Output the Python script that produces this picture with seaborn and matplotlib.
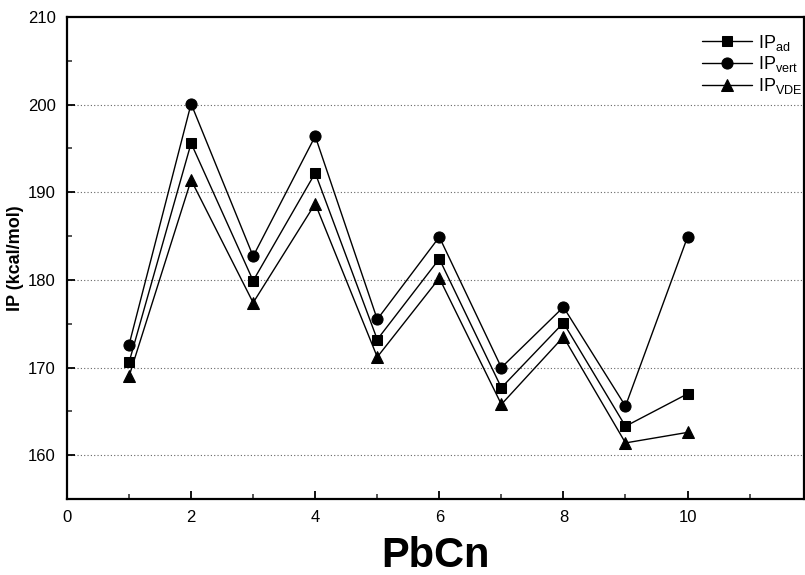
import matplotlib
matplotlib.use("Agg")
import matplotlib.pyplot as plt
import seaborn as sns
import numpy as np
from matplotlib.ticker import MultipleLocator

sns.set_theme(style="white")
plt.rcParams['font.family'] = ['Liberation Sans', 'DejaVu Sans']
plt.rcParams['mathtext.fontset'] = 'custom'
plt.rcParams['mathtext.rm'] = 'Liberation Sans'
plt.rcParams['text.color'] = 'black'
plt.rcParams['axes.labelcolor'] = 'black'

n_values = [1, 2, 3, 4, 5, 6, 7, 8, 9, 10]
ip_ad = [170.6, 195.6, 179.9, 192.2, 173.2, 182.4, 167.7, 175.1, 163.3, 167.0]
ip_vert = [172.6, 200.1, 182.7, 196.4, 175.5, 184.9, 170.0, 176.9, 165.6, 184.9]
ip_vde = [169.0, 191.4, 177.4, 188.7, 171.2, 180.2, 165.8, 173.5, 161.4, 162.6]
series_labels = [r'IP$_{\mathregular{ad}}$', r'IP$_{\mathregular{vert}}$', r'IP$_{\mathregular{VDE}}$']
x_ticks = [0, 2, 4, 6, 8, 10]
y_ticks = [160, 170, 180, 190, 200, 210]

fig = plt.figure(figsize=(8.05, 5.75), dpi=100)
ax = fig.add_axes([67/805, 1 - 499/575, 1 - 67/805 - 0.001, (499 - 17)/575])

series = [ip_ad, ip_vert, ip_vde]
markers = ['s', 'o', '^']
msizes = [6.5, 8, 8]
for vals, lab, mk, ms in zip(series, series_labels, markers, msizes):
    sns.lineplot(x=n_values, y=vals, ax=ax, color='black', linewidth=1.0,
                 marker=mk, markersize=ms, markeredgecolor='black',
                 markerfacecolor='black', label=lab)

ax.set_xlim(0, 11.88)
ax.set_ylim(155, 210)
ax.set_xticks(x_ticks)
ax.set_yticks(y_ticks)
ax.xaxis.set_minor_locator(MultipleLocator(1))
ax.yaxis.set_minor_locator(MultipleLocator(5))
ax.tick_params(axis='both', which='major', direction='in', length=6, width=1.3,
               labelsize=12, colors='black', bottom=True, left=True, pad=8)
ax.tick_params(axis='both', which='minor', direction='in', length=3.5, width=1.1,
               bottom=True, left=True)
for s in ax.spines.values():
    s.set_color('black')
    s.set_linewidth(1.6)

for yv in [160, 170, 180, 190, 200]:
    ax.axhline(yv, color='#666666', linestyle=(0, (1, 2)), linewidth=0.8, zorder=0)

ax.set_ylabel('IP (kcal/mol)', fontsize=13, fontweight='bold', labelpad=3, color='black')
ax.set_xlabel('PbCn', fontsize=30, fontweight='bold', labelpad=8, color='black')

leg = ax.legend(loc='upper right', bbox_to_anchor=(1.012, 0.99), frameon=False,
                fontsize=13, handlelength=2.8, handletextpad=0.3,
                labelspacing=0.1, borderaxespad=0.2)
for t in leg.get_texts():
    t.set_color('black')

fig.savefig('out.png', dpi=100)
